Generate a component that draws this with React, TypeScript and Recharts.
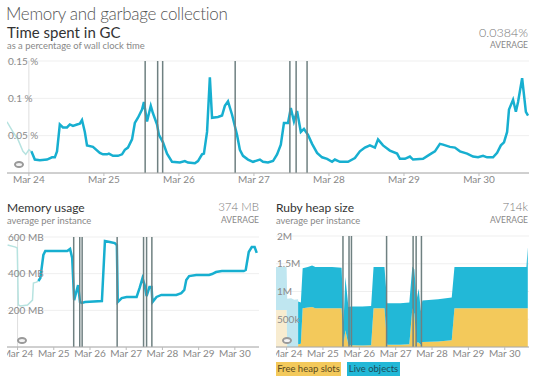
import React from "react";
import { Area, CartesianGrid, ComposedChart, Line, ReferenceLine, XAxis, YAxis } from "recharts";

// hours since Mar 24 00:00
const dayTicks = [0, 24, 48, 72, 96, 120, 144];
const dayLabels = ["Mar 24", "Mar 25", "Mar 26", "Mar 27", "Mar 28", "Mar 29", "Mar 30"];
const deployHours = [37.2, 41.2, 42.8, 66, 83.5, 85.5, 89];

// Time spent in GC (%)
const gcPastHours = [-7, -5.1, -3.5, -1.9, -1, 0, 0.8];
const gcPastPct = [0.0685, 0.055, 0.045, 0.029, 0.025, 0.031, 0.029];
const gcHours = [
  0.8, 1.9, 3.5, 5.8, 7.4, 8.3, 9.0, 9.9, 10.9, 12.2, 13.1, 14.1, 15.4, 16.3, 17.0, 17.9, 18.6, 20.5, 22.7, 23.7,
  25.0, 25.6, 26.9, 28.5, 29.8, 30.7, 31.7, 33.0, 33.9, 34.9, 36.2, 36.8, 37.8, 39.0, 39.7, 41.0, 41.6, 42.9, 44.2,
  45.8, 48.3, 49.9, 50.9, 53.1, 54.1, 55.4, 56.0, 57.0, 57.9, 58.6, 60.5, 61.8, 62.7, 63.7, 65.0, 66.6, 67.5, 68.5,
  70.1, 71.7, 73.9, 74.9, 76.5, 78.1, 79.4, 80.6, 81.6, 82.9, 83.8, 84.8, 85.8, 87.0, 88.0, 89.3, 90.6, 92.2, 93.8,
  95.4, 97.0, 97.9, 99.5, 102.1, 104.3, 105.9, 107.5, 109.1, 110.7, 111.7, 113.3, 115.5, 117.8, 118.7, 120.3, 121.9,
  122.9, 126.1, 128.3, 129.9, 131.5, 132.5, 134.7, 136.3, 137.9, 140.2, 142.1, 143.7, 145.3, 146.6, 148.5, 149.8,
  151.0, 152.0, 153.0, 153.6, 154.9, 155.8, 156.5, 157.8, 159.0, 159.7,
];
const gcPct = [
  0.029, 0.018, 0.017, 0.018, 0.021, 0.021, 0.029, 0.065, 0.061, 0.061, 0.065, 0.063, 0.065, 0.066, 0.071, 0.055,
  0.037, 0.035, 0.027, 0.025, 0.025, 0.026, 0.023, 0.023, 0.025, 0.031, 0.034, 0.045, 0.067, 0.074, 0.085, 0.095,
  0.069, 0.09, 0.08, 0.065, 0.051, 0.041, 0.026, 0.015, 0.014, 0.016, 0.014, 0.013, 0.016, 0.025, 0.026, 0.055,
  0.128, 0.074, 0.075, 0.077, 0.09, 0.096, 0.078, 0.051, 0.031, 0.023, 0.018, 0.015, 0.018, 0.015, 0.014, 0.016,
  0.025, 0.038, 0.067, 0.067, 0.087, 0.069, 0.083, 0.055, 0.059, 0.051, 0.039, 0.027, 0.021, 0.019, 0.015, 0.018,
  0.015, 0.015, 0.02, 0.029, 0.034, 0.037, 0.034, 0.045, 0.037, 0.03, 0.026, 0.019, 0.019, 0.022, 0.018, 0.019,
  0.025, 0.029, 0.039, 0.038, 0.035, 0.034, 0.029, 0.026, 0.022, 0.021, 0.023, 0.021, 0.021, 0.027, 0.037, 0.041,
  0.055, 0.085, 0.098, 0.082, 0.095, 0.127, 0.082, 0.077,
];
const gcTicks = [0.05, 0.1, 0.15];

// Memory usage (MB)
const memPastHours = [-6.6, -1.3, -0.2, 0.5, 2.0, 6.6, 9.9, 10.5, 12.5, 13.8];
const memPastMb = [556, 545, 540, 229, 224, 229, 256, 349, 354, 360];
const memHours = [
  13.8, 15.1, 17.1, 18.4, 32.9, 34.8, 36.2, 37.5, 40.1, 41.4, 42.7, 44.7, 55.9, 57.9, 61.1, 64.4, 65.8, 66.4, 69.0,
  72.3, 78.9, 80.9, 82.8, 84.2, 85.5, 87.4, 88.8, 89.4, 92.1, 95.3, 105.2, 108.5, 110.5, 111.8, 113.7, 118.4, 126.9,
  128.9, 131.5, 135.4, 149.9, 151.2, 153.2, 155.2, 157.1, 158.5,
];
const memMb = [
  360, 376, 502, 524, 524, 535, 485, 256, 338, 245, 240, 245, 251, 578, 573, 567, 556, 245, 267, 273, 273, 322, 376,
  338, 278, 327, 327, 245, 273, 284, 284, 294, 311, 365, 387, 393, 393, 398, 409, 414, 414, 420, 518, 545, 545, 513,
];
const memTicks = [200, 400, 600];

// Ruby heap size (thousands)
const heapPastHours = [-7, 0, 0.4, 3, 5, 7.6];
const heapPastFree = [665, 665, 0, 0, 0, 0];
const heapPastLive = [775, 775, 870, 880, 850, 860];
const heapHours = [
  7.6, 9.4, 10.6, 14, 16.8, 19, 30, 36.3, 37.6, 38.8, 40.8, 42.5, 50, 55.8, 57.4, 64.6, 66.4, 75, 81, 83, 84.3, 85.8,
  87.2, 88.6, 89.6, 100, 109, 110.8, 130, 150, 158.3, 159.2,
];
const heapFree = [
  50, 60, 700, 710, 720, 700, 700, 700, 60, 300, 40, 30, 25, 30, 700, 700, 40, 40, 50, 700, 600, 80, 80, 40, 90, 100,
  120, 700, 700, 700, 700, 700,
];
const heapLive = [
  770, 740, 720, 730, 750, 740, 740, 730, 390, 960, 680, 700, 705, 710, 740, 740, 750, 750, 750, 750, 800, 770, 970,
  610, 750, 760, 770, 740, 740, 740, 740, 1100,
];
const heapTicks = [500, 1000, 1500, 2000];

const FONT = "Lato, 'Open Sans', sans-serif";
const BLUE = "#17afd0";
const PALE = "#b7e3e0";
const DEPLOY = "#6f8081";
const YELLOW = "#f3c95b";

const rowsOf = (pastH: number[], pastV: number[], curH: number[], curV: number[]) =>
  [
    ...pastH.map((h, i) => ({ h, past: pastV[i] })),
    ...curH.map((h, i) => ({ h, cur: curV[i] })),
  ].sort((a, b) => a.h - b.h);

const gcRows = rowsOf(gcPastHours, gcPastPct, gcHours, gcPct);
const memRows = rowsOf(memPastHours, memPastMb, memHours, memMb);
const heapRows = [
  ...heapPastHours.map((h, i) => ({
    h,
    pastFree: [0, heapPastFree[i]],
    pastLive: [heapPastFree[i], heapPastFree[i] + heapPastLive[i]],
  })),
  ...heapHours.map((h, i) => ({
    h,
    free: [0, heapFree[i]],
    live: [heapFree[i], heapFree[i] + heapLive[i]],
  })),
];

const fmtDay = (h: number) => dayLabels[dayTicks.indexOf(h)] ?? "";
const fmtHeap = (v: number) => (v >= 1000 ? `${v / 1000}M` : `${v}k`);

const xAxis = (
  <XAxis
    dataKey="h"
    type="number"
    domain={[-7, 160]}
    ticks={dayTicks}
    interval={0}
    tickFormatter={fmtDay}
    allowDataOverflow
    axisLine={{ stroke: "#a8a8a8" }}
    tickLine={{ stroke: "#bbb" }}
    tickSize={3}
    tickMargin={0}
    height={16}
    tick={{ fontSize: 10, fill: "#888", fontFamily: FONT }}
  />
);

const yAxis = (domain: number[], ticks: number[], fmt: (v: number) => string) => (
  <YAxis
    type="number"
    domain={domain}
    ticks={ticks}
    interval={0}
    mirror
    width={40}
    axisLine={false}
    tickLine={false}
    tick={(p: any) => (
      <text x={1} y={p.y} dy={3.5} fontSize={10} fill="#8a8a8a" fontFamily={FONT}>
        {fmt(p.payload.value)}
      </text>
    )}
  />
);

const deployLines = deployHours.map((h) => (
  <ReferenceLine key={h} x={h} stroke={DEPLOY} strokeWidth={1.5} />
));

const Ring = ({ left, top }: { left: number; top: number }) => (
  <div
    style={{
      position: "absolute",
      left,
      top,
      width: 6,
      height: 3,
      border: "2.5px solid #9a9a9a",
      borderRadius: "50%",
      background: "#f3f3f3",
    }}
  />
);

const Header = ({ left, top, width, title, sub, value, big }: any) => (
  <div style={{ position: "absolute", left, top, width, height: 30, fontFamily: FONT }}>
    <div style={{ position: "absolute", left: 0, top: big ? -1.5 : 1, fontSize: big ? 15 : 12, color: "#333", whiteSpace: "nowrap" }}>{title}</div>
    <div style={{ position: "absolute", left: 0, top: 16, fontSize: 9.4, color: "#888", whiteSpace: "nowrap" }}>{sub}</div>
    <div style={{ position: "absolute", right: 0, top: 1, fontSize: big ? 12.5 : 11.5, fontWeight: 300, color: "#777", whiteSpace: "nowrap" }}>{value}</div>
    <div style={{ position: "absolute", right: 0, top: 16, fontSize: 8.5, color: "#888", whiteSpace: "nowrap" }}>AVERAGE</div>
  </div>
);

export default function App() {
  return (
    <div style={{ position: "relative", width: 540, height: 383, background: "#fff", fontFamily: FONT }}>
      <style>{`body{margin:0}`}</style>
      <div style={{ position: "absolute", left: 6, top: 3, fontSize: 17, letterSpacing: -0.3, fontWeight: 300, color: "#555", whiteSpace: "nowrap" }}>
        Memory and garbage collection
      </div>
      <Header big left={7} top={24} width={521} title="Time spent in GC" sub="as a percentage of wall clock time" value="0.0384%" />

      <div style={{ position: "absolute", left: 7, top: 55 }}>
        <ComposedChart width={522} height={134} data={gcRows} margin={{ top: 6, right: 0, bottom: 0, left: 0 }}>
          <CartesianGrid vertical={false} stroke="#efefef" />
          {xAxis}
          <ReferenceLine x={0} stroke="#dedede" />
          <Line dataKey="past" stroke={PALE} strokeWidth={1.5} dot={false} isAnimationActive={false} />
          <Line dataKey="cur" stroke={BLUE} strokeWidth={2.5} dot={false} isAnimationActive={false} />
          {deployLines}
          {yAxis([0, 0.15], gcTicks, (v) => `${v} %`)}
        </ComposedChart>
      </div>
      <Ring left={14} top={161} />

      <Header left={7} top={199} width={252} title="Memory usage" sub="average per instance" value="374 MB" />
      <div style={{ position: "absolute", left: 7, top: 231 }}>
        <ComposedChart width={252} height={132} data={memRows} margin={{ top: 6, right: 0, bottom: 0, left: 0 }}>
          <CartesianGrid vertical={false} stroke="#efefef" />
          {xAxis}
          <ReferenceLine x={0} stroke="#dedede" />
          <Line dataKey="past" stroke={PALE} strokeWidth={1.5} dot={false} isAnimationActive={false} />
          <Line dataKey="cur" stroke={BLUE} strokeWidth={2.5} dot={false} isAnimationActive={false} />
          {deployLines}
          {yAxis([0, 600], memTicks, (v) => `${v} MB`)}
        </ComposedChart>
      </div>
      <Ring left={17} top={337} />

      <Header left={276} top={199} width={252} title="Ruby heap size" sub="average per instance" value="714k" />
      <div style={{ position: "absolute", left: 276, top: 230 }}>
        <ComposedChart width={253} height={133} data={heapRows} margin={{ top: 6, right: 0, bottom: 0, left: 0 }}>
          <CartesianGrid vertical={false} stroke="#efefef" />
          {xAxis}
          <Area dataKey="pastFree" stroke="none" fill="#f8ecd0" fillOpacity={1} isAnimationActive={false} />
          <Area dataKey="pastLive" stroke="none" fill="#bfe6f0" fillOpacity={1} isAnimationActive={false} />
          <Area dataKey="free" stroke="none" fill={YELLOW} fillOpacity={1} isAnimationActive={false} />
          <Area dataKey="live" stroke="none" fill="#22b8d7" fillOpacity={1} isAnimationActive={false} />
          {deployLines}
          {yAxis([0, 2000], heapTicks, fmtHeap)}
        </ComposedChart>
      </div>
      <Ring left={282} top={337} />

      <div style={{ position: "absolute", left: 276, top: 362, width: 65, height: 14, background: YELLOW, fontSize: 9.5, color: "#5a4a20", lineHeight: "14px", textAlign: "center", whiteSpace: "nowrap" }}>
        Free heap slots
      </div>
      <div style={{ position: "absolute", left: 347, top: 362, width: 53, height: 14, background: "#22b8d7", fontSize: 9.5, color: "#1d4d5a", lineHeight: "14px", textAlign: "center", whiteSpace: "nowrap" }}>
        Live objects
      </div>
    </div>
  );
}
